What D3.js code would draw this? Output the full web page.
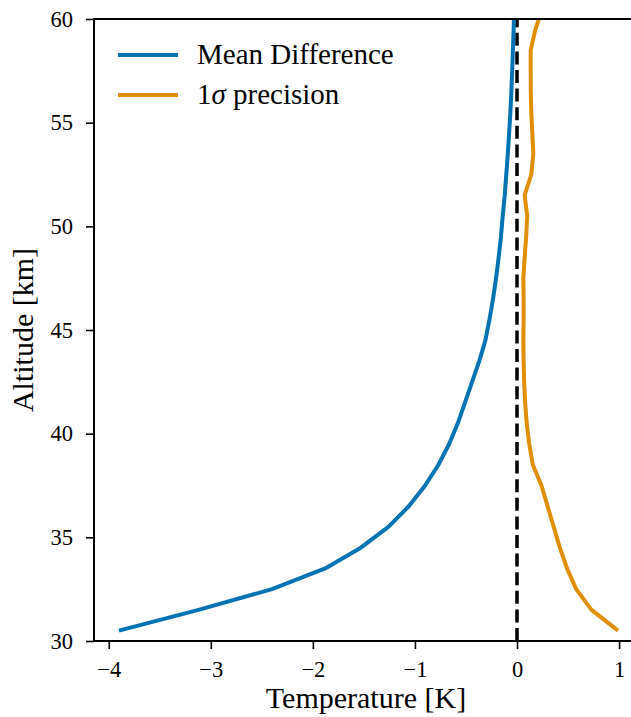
<!DOCTYPE html>
<html>
<head>
<meta charset="utf-8">
<script src="https://cdn.jsdelivr.net/npm/d3@7"></script>
<style>
  body { margin: 0; background: #fff; }
</style>
</head>
<body>
<svg id="chart" width="631" height="717"></svg>
<script>
// altitude grid [km]
const altitude = [30.5, 31.5, 32.5, 33.5, 34.5, 35.5, 36.5, 37.5, 38.5, 39.5, 40.5, 41.5, 42.5, 43.5, 44.5,
  45.5, 46.5, 47.5, 48.5, 49.5, 50.5, 51.5, 52.5, 53.5, 54.5, 55.5, 56.5, 57.5, 58.5, 59.5, 60.5];
// mean temperature difference [K]
const meanDiff = [-3.90, -3.12, -2.40, -1.88, -1.53, -1.26, -1.06, -0.90, -0.77, -0.665, -0.58, -0.51, -0.44, -0.37, -0.31,
  -0.27, -0.235, -0.205, -0.18, -0.157, -0.14, -0.12, -0.105, -0.09, -0.077, -0.065, -0.055, -0.047, -0.04, -0.033, -0.027];
// 1 sigma precision [K]
const precision = [0.99, 0.73, 0.58, 0.49, 0.42, 0.36, 0.30, 0.24, 0.155, 0.12, 0.095, 0.08, 0.07, 0.065, 0.062,
  0.065, 0.065, 0.062, 0.075, 0.09, 0.10, 0.075, 0.14, 0.16, 0.15, 0.14, 0.135, 0.134, 0.134, 0.18, 0.25];
const xTicks = [-4, -3, -2, -1, 0, 1];
const yTicks = [30, 35, 40, 45, 50, 55, 60];

const series = [
  { name: 'Mean Difference', values: meanDiff, color: '#0173B2' },
  { name: 'precision', values: precision, color: '#DE8F05' }
];

const font = (px) => `font-family:'Liberation Serif';font-size:${px}px`;

const svg = d3.select('#chart');
const x = d3.scaleLinear().domain([-4.1445, 1.2345]).range([94, 643]);
const y = d3.scaleLinear().domain([30, 60]).range([641, 19]);

svg.append('defs').append('clipPath').attr('id', 'plot-clip').append('rect')
  .attr('x', 94).attr('y', 19).attr('width', 549).attr('height', 622);

const plot = svg.append('g').attr('clip-path', 'url(#plot-clip)');

// zero line
plot.append('line')
  .attr('x1', x(0)).attr('x2', x(0)).attr('y1', y(30)).attr('y2', y(60))
  .attr('stroke', '#000').attr('stroke-width', 3.5).attr('stroke-dasharray', '13,5.6');

const line = d3.line().x((d) => x(d[0])).y((d) => y(d[1]));
plot.selectAll('path.series').data(series).join('path')
  .classed('series', true)
  .attr('d', (d) => line(d.values.map((v, i) => [v, altitude[i]])))
  .attr('fill', 'none')
  .attr('stroke', (d) => d.color)
  .attr('stroke-width', 4)
  .attr('stroke-linejoin', 'round');

// axes
const fmt = (d) => (d < 0 ? '\u2212' + Math.abs(d) : String(d));
const xAxis = svg.append('g').attr('transform', `translate(0,${y(30)})`)
  .call(d3.axisBottom(x).tickValues(xTicks).tickFormat(fmt).tickSize(8).tickPadding(12));
const yAxis = svg.append('g').attr('transform', `translate(${x.range()[0]},0)`)
  .call(d3.axisLeft(y).tickValues(yTicks).tickSize(8).tickPadding(13));
[xAxis, yAxis].forEach((ax) => {
  ax.attr('font-family', null).attr('font-size', null);
  ax.select('.domain').remove();
  ax.selectAll('.tick line').attr('stroke', '#000').attr('stroke-width', 1.6);
  ax.selectAll('.tick text').attr('fill', '#000').attr('style', font(22.5));
});

// spines: left, bottom, top (the right one falls outside the frame)
const spine = svg.append('g').attr('stroke', '#000').attr('stroke-width', 2).attr('stroke-linecap', 'square');
spine.append('line').attr('x1', 94).attr('x2', 94).attr('y1', 19).attr('y2', 641);
spine.append('line').attr('x1', 94).attr('x2', 643).attr('y1', 641).attr('y2', 641);
spine.append('line').attr('x1', 94).attr('x2', 643).attr('y1', 19).attr('y2', 19);

// axis labels
svg.append('text').attr('x', 366).attr('y', 708).attr('text-anchor', 'middle')
  .attr('style', font(30)).text('Temperature [K]');
svg.append('text').attr('transform', 'translate(33,330) rotate(-90)').attr('text-anchor', 'middle')
  .attr('style', font(30)).text('Altitude [km]');

// legend
const items = svg.append('g').selectAll('g').data(series).join('g')
  .attr('transform', (d, i) => `translate(118,${55 + i * 40})`);
items.append('line').attr('x1', 0).attr('x2', 60)
  .attr('stroke', (d) => d.color).attr('stroke-width', 4);
const labels = items.append('text').attr('x', 79).attr('y', 9).attr('style', font(29));
labels.filter((d, i) => i === 0).text((d) => d.name);
const sig = labels.filter((d, i) => i === 1);
sig.append('tspan').text('1');
sig.append('tspan').attr('font-style', 'italic').text('\u03C3');
sig.append('tspan').text(' precision');
</script>
</body>
</html>
